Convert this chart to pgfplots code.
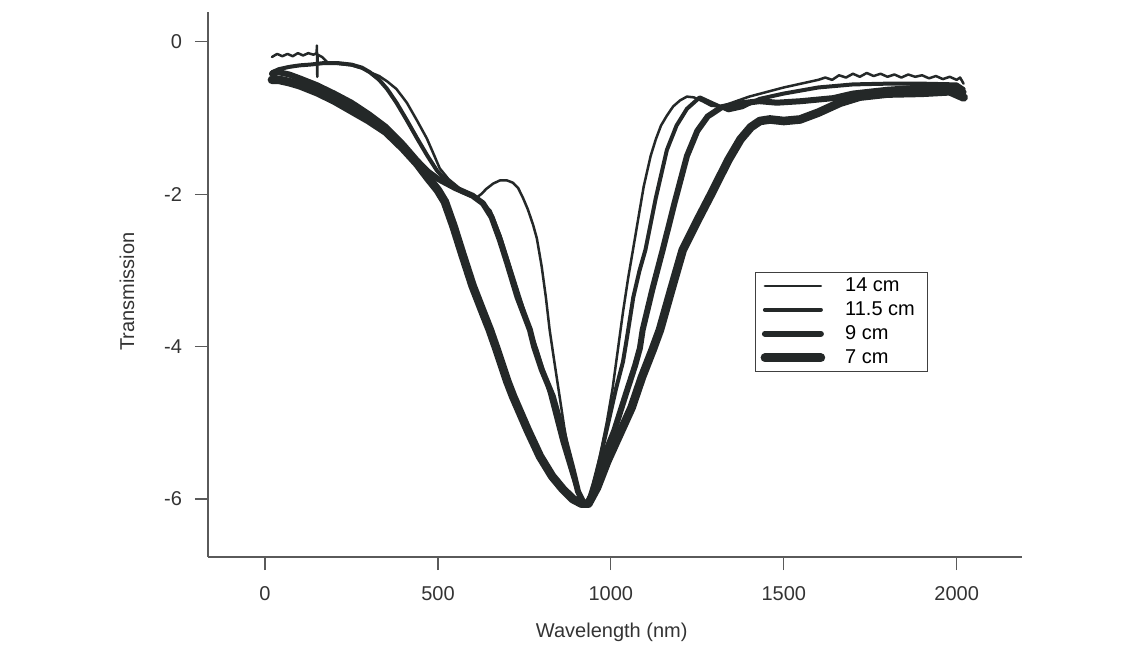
\documentclass[border=0pt]{standalone}
\usepackage{fontspec}
\setmainfont{Liberation Sans}
\usepackage{pgfplots}
\pgfplotsset{compat=1.18}
\definecolor{ink}{RGB}{36,40,40}
\definecolor{axc}{RGB}{90,90,90}
\begin{document}
\begin{tikzpicture}
\path[use as bounding box] (-104pt,-43.5pt) rectangle (465.5pt,278.5pt);
\begin{axis}[
  scale only axis, width=407pt, height=272.5pt,
  xmin=-165, xmax=2189, ymin=-6.76, ymax=0.39,
  axis lines=left, axis line style={-, axc, line width=0.6pt},
  tick align=outside, major tick length=6.5pt,
  tick style={axc, line width=0.6pt},
  xtick={0,500,1000,1500,2000}, ytick={-6,-4,-2,0},
  minor tick num=0,
  /pgf/number format/assume math mode=true,
  /pgf/number format/1000 sep={},
  ticklabel style={font=\fontsize{10}{12}\selectfont, text=black!80},
  xticklabel style={yshift=-4.5pt},
  yticklabel style={xshift=-3pt},
  xlabel={Wavelength (nm)}, ylabel={Transmission},
  xlabel style={at={(axis description cs:0.496,-0.138)}, anchor=center, font=\fontsize{10}{12}\selectfont, text=black!80},
  ylabel style={at={(axis description cs:-0.0995,0.487)}, anchor=center, font=\fontsize{10}{12}\selectfont, text=black!80},
  legend style={at={(axis description cs:0.672,0.523)}, anchor=north west, draw=black!75, line width=0.6pt, fill=white,
    font=\fontsize{10}{12}\selectfont, inner xsep=2.5pt, inner ysep=0.5pt, row sep=-0.45pt,
    nodes={inner xsep=4pt}},
  legend cell align=left,
  legend image code/.code={\draw[#1, line cap=round] (0pt,0pt) -- (28pt,0pt);},
  every axis plot/.append style={ink, line join=round, line cap=round},
  clip=false,
]
% 14 cm
\addplot[line width=1.25pt] coordinates {
(20,-0.20)(35,-0.16)(50,-0.19)(65,-0.16)(80,-0.19)(95,-0.15)(110,-0.18)(125,-0.15)(140,-0.17)(149,-0.15)(150,-0.05)(151,-0.46)(152,-0.17)(165,-0.20)(180,-0.27)(210,-0.29)(250,-0.31)(280,-0.35)(303,-0.40)(330,-0.45)(353,-0.52)(380,-0.62)(410,-0.80)(439,-1.03)(468,-1.27)(490,-1.50)(505,-1.66)(530,-1.80)(570,-1.95)(613,-2.04)(625,-2.00)(640,-1.93)(660,-1.86)(679,-1.82)(700,-1.82)(717,-1.85)(732,-1.92)(746,-2.05)(760,-2.20)(775,-2.40)(786,-2.58)(800,-2.95)(812,-3.35)(823,-3.78)(835,-4.15)(850,-4.60)(865,-5.05)(880,-5.45)(895,-5.78)(910,-6.00)(922,-6.10)(932,-6.05)(940,-5.95)(955,-5.70)(970,-5.40)(988,-5.00)(1005,-4.55)(1020,-4.05)(1035,-3.55)(1050,-3.10)(1064,-2.73)(1080,-2.30)(1095,-1.90)(1115,-1.50)(1130,-1.28)(1145,-1.10)(1162,-0.97)(1180,-0.85)(1200,-0.77)(1220,-0.72)(1240,-0.73)(1265,-0.78)(1290,-0.84)(1320,-0.85)(1350,-0.80)(1400,-0.72)(1450,-0.66)(1500,-0.60)(1550,-0.55)(1600,-0.50)(1620,-0.47)(1640,-0.50)(1660,-0.44)(1680,-0.47)(1700,-0.42)(1720,-0.46)(1740,-0.41)(1760,-0.45)(1780,-0.42)(1800,-0.46)(1820,-0.43)(1840,-0.47)(1860,-0.43)(1880,-0.46)(1900,-0.44)(1920,-0.48)(1940,-0.45)(1960,-0.49)(1980,-0.46)(2000,-0.50)(2010,-0.47)(2020,-0.55)
};
\addlegendentry{\hspace{6pt}14 cm}
% 11.5 cm
\addplot[line width=2.0pt] coordinates {
(20,-0.40)(40,-0.36)(70,-0.33)(100,-0.31)(130,-0.30)(170,-0.28)(210,-0.28)(250,-0.30)(280,-0.34)(303,-0.40)(330,-0.50)(353,-0.62)(380,-0.80)(410,-1.03)(440,-1.27)(470,-1.50)(497,-1.69)(530,-1.85)(570,-1.97)(613,-2.05)(650,-2.22)(679,-2.55)(700,-2.85)(735,-3.35)(770,-3.85)(785,-4.04)(823,-4.60)(860,-5.25)(890,-5.70)(910,-5.98)(925,-6.08)(935,-6.02)(950,-5.80)(970,-5.45)(990,-5.05)(1015,-4.55)(1035,-4.20)(1046,-3.90)(1065,-3.35)(1083,-3.00)(1100,-2.73)(1130,-2.05)(1162,-1.42)(1190,-1.10)(1220,-0.88)(1257,-0.73)(1300,-0.82)(1340,-0.90)(1380,-0.86)(1430,-0.75)(1500,-0.68)(1600,-0.60)(1700,-0.56)(1800,-0.55)(1900,-0.55)(2000,-0.56)(2020,-0.62)
};
\addlegendentry{\hspace{6pt}11.5 cm}
% 9 cm
\addplot[line width=3.0pt] coordinates {
(20,-0.42)(40,-0.40)(70,-0.43)(100,-0.48)(150,-0.57)(200,-0.68)(250,-0.80)(300,-0.95)(350,-1.12)(400,-1.35)(440,-1.56)(470,-1.70)(500,-1.80)(550,-1.92)(600,-2.02)(630,-2.12)(655,-2.30)(679,-2.60)(700,-2.90)(730,-3.35)(766,-3.78)(778,-4.00)(800,-4.30)(832,-4.65)(860,-5.10)(890,-5.62)(905,-5.90)(920,-6.04)(932,-6.06)(945,-5.95)(970,-5.55)(1010,-5.10)(1045,-4.60)(1070,-4.25)(1084,-4.02)(1092,-3.78)(1120,-3.25)(1150,-2.73)(1185,-2.10)(1220,-1.50)(1250,-1.17)(1280,-0.98)(1320,-0.86)(1373,-0.81)(1430,-0.78)(1480,-0.80)(1550,-0.78)(1643,-0.74)(1700,-0.68)(1800,-0.63)(1900,-0.60)(2000,-0.60)(2020,-0.66)
};
\addlegendentry{\hspace{6pt}9 cm}
% 7 cm
\addplot[line width=4.3pt] coordinates {
(20,-0.50)(40,-0.50)(70,-0.53)(100,-0.57)(150,-0.66)(200,-0.77)(250,-0.90)(300,-1.03)(350,-1.18)(400,-1.40)(440,-1.60)(470,-1.78)(500,-1.95)(520,-2.10)(545,-2.42)(570,-2.78)(600,-3.20)(630,-3.55)(650,-3.78)(670,-4.04)(700,-4.45)(717,-4.65)(760,-5.10)(795,-5.44)(830,-5.70)(861,-5.87)(890,-6.00)(915,-6.06)(935,-6.06)(960,-5.85)(990,-5.50)(1020,-5.20)(1060,-4.80)(1090,-4.40)(1121,-4.04)(1142,-3.78)(1175,-3.25)(1208,-2.73)(1250,-2.35)(1290,-2.00)(1340,-1.55)(1375,-1.28)(1405,-1.12)(1431,-1.04)(1460,-1.02)(1500,-1.04)(1547,-1.02)(1600,-0.93)(1663,-0.80)(1720,-0.72)(1800,-0.68)(1900,-0.67)(1980,-0.65)(2020,-0.73)
};
\addlegendentry{\hspace{6pt}7 cm}
\end{axis}
\end{tikzpicture}
\end{document}
